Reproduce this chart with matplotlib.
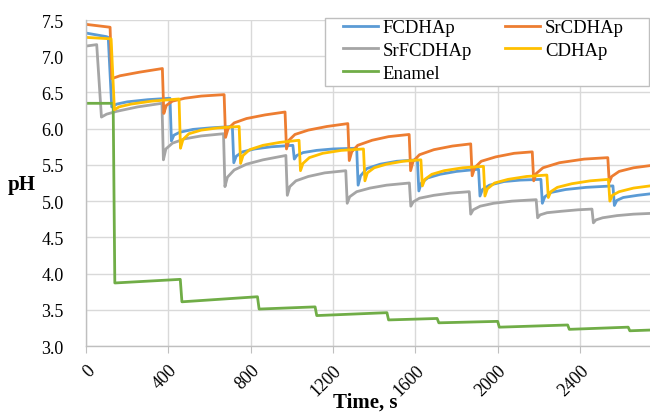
import matplotlib as mpl
mpl.use('Agg')
import matplotlib.pyplot as plt
from matplotlib.patches import Rectangle

# time (s) and pH readings for each material
t_fc = [0, 100, 108, 125, 150, 200, 300, 408,
        415, 427, 455, 520, 600, 711,
        718, 730, 760, 820, 900, 1005,
        1012, 1024, 1055, 1120, 1200, 1315,
        1322, 1334, 1365, 1430, 1510, 1610,
        1617, 1629, 1660, 1720, 1800, 1907,
        1914, 1926, 1960, 2030, 2110, 2210,
        2217, 2229, 2260, 2330, 2430, 2560,
        2567, 2579, 2610, 2680, 2740]
ph_fc = [7.32, 7.27, 7.26, 6.30, 6.34, 6.37, 6.40, 6.42,
         5.83, 5.91, 5.95, 5.99, 6.01, 6.03,
         5.53, 5.62, 5.68, 5.72, 5.75, 5.77,
         5.58, 5.63, 5.67, 5.70, 5.72, 5.73,
         5.22, 5.35, 5.45, 5.51, 5.55, 5.57,
         5.14, 5.25, 5.32, 5.37, 5.41, 5.44,
         5.07, 5.16, 5.22, 5.27, 5.29, 5.30,
         4.97, 5.06, 5.12, 5.16, 5.19, 5.21,
         4.94, 5.01, 5.05, 5.08, 5.10]

t_sr = [0, 117, 125, 165, 260, 371,
        378, 390, 420, 480, 560, 671,
        678, 690, 720, 780, 870, 967,
        974, 986, 1015, 1080, 1170, 1272,
        1279, 1291, 1320, 1390, 1470, 1570,
        1577, 1589, 1620, 1690, 1780, 1869,
        1876, 1888, 1920, 1990, 2080, 2168,
        2175, 2187, 2220, 2300, 2420, 2535,
        2542, 2554, 2590, 2660, 2740]
ph_sr = [7.44, 7.40, 6.69, 6.73, 6.78, 6.83,
         6.21, 6.32, 6.38, 6.42, 6.45, 6.47,
         5.88, 6.00, 6.08, 6.14, 6.19, 6.23,
         5.72, 5.84, 5.92, 5.98, 6.03, 6.07,
         5.56, 5.68, 5.77, 5.84, 5.89, 5.92,
         5.42, 5.55, 5.64, 5.71, 5.76, 5.79,
         5.35, 5.46, 5.55, 5.61, 5.66, 5.68,
         5.28, 5.38, 5.46, 5.53, 5.58, 5.60,
         5.26, 5.34, 5.41, 5.46, 5.49]

t_srf = [0, 52, 75, 100, 150, 250, 369,
         376, 388, 420, 480, 560, 668,
         675, 687, 720, 780, 860, 971,
         978, 990, 1020, 1080, 1160, 1262,
         1269, 1281, 1315, 1380, 1460, 1571,
         1578, 1590, 1620, 1690, 1770, 1862,
         1869, 1881, 1915, 1980, 2070, 2187,
         2194, 2206, 2240, 2310, 2390, 2458,
         2465, 2477, 2510, 2580, 2660, 2740]
ph_srf = [7.14, 7.16, 6.16, 6.20, 6.24, 6.30, 6.35,
          5.57, 5.72, 5.80, 5.86, 5.90, 5.93,
          5.20, 5.33, 5.43, 5.51, 5.57, 5.63,
          5.08, 5.20, 5.28, 5.34, 5.39, 5.42,
          4.97, 5.06, 5.13, 5.18, 5.22, 5.25,
          4.93, 4.99, 5.04, 5.08, 5.11, 5.13,
          4.82, 4.88, 4.93, 4.97, 5.00, 5.02,
          4.77, 4.81, 4.84, 4.86, 4.88, 4.89,
          4.70, 4.74, 4.77, 4.80, 4.82, 4.83]

t_cd = [0, 122, 138, 160, 220, 320, 452,
        459, 471, 500, 560, 640, 744,
        751, 763, 795, 860, 940, 1035,
        1042, 1054, 1085, 1150, 1240, 1348,
        1355, 1367, 1400, 1460, 1540, 1627,
        1634, 1646, 1680, 1740, 1830, 1931,
        1938, 1950, 1985, 2050, 2140, 2239,
        2246, 2258, 2290, 2360, 2450, 2538,
        2545, 2557, 2590, 2660, 2740]
ph_cd = [7.26, 7.24, 6.26, 6.30, 6.34, 6.38, 6.41,
         5.73, 5.85, 5.93, 5.98, 6.01, 6.03,
         5.52, 5.63, 5.71, 5.77, 5.81, 5.84,
         5.42, 5.52, 5.60, 5.66, 5.70, 5.72,
         5.28, 5.39, 5.46, 5.51, 5.55, 5.57,
         5.21, 5.30, 5.37, 5.42, 5.46, 5.48,
         5.07, 5.17, 5.25, 5.30, 5.34, 5.36,
         5.05, 5.13, 5.19, 5.24, 5.28, 5.30,
         5.00, 5.08, 5.13, 5.18, 5.21]

t_en = [0, 132, 140, 458, 466, 833, 841, 1113, 1121, 1462, 1470,
        1706, 1714, 2000, 2008, 2340, 2348, 2634, 2642, 2740]
ph_en = [6.35, 6.35, 3.87, 3.92, 3.61, 3.68, 3.51, 3.54, 3.42, 3.46, 3.36,
         3.38, 3.32, 3.34, 3.26, 3.29, 3.23, 3.26, 3.21, 3.22]

x_ticks = [0, 400, 800, 1200, 1600, 2000, 2400]
y_ticks = [3.0, 3.5, 4.0, 4.5, 5.0, 5.5, 6.0, 6.5, 7.0, 7.5]

plt.rcParams['font.family'] = 'Liberation Serif'

W, H = 650, 414
fig = plt.figure(figsize=(6.5, 4.14), dpi=100)
ax = fig.add_axes([86/W, 67/H, 564/W, 326/H])

lw = 2.0
ax.plot(t_fc, ph_fc, color='#5B9BD5', lw=lw, label='FCDHAp')
ax.plot(t_srf, ph_srf, color='#A5A5A5', lw=lw, label='SrFCDHAp')
ax.plot(t_en, ph_en, color='#70AD47', lw=lw, label='Enamel')
ax.plot(t_sr, ph_sr, color='#ED7D31', lw=lw, label='SrCDHAp')
ax.plot(t_cd, ph_cd, color='#FFC000', lw=lw, label='CDHAp')

ax.set_xlim(0, 2740)
ax.set_ylim(3.0, 7.5)
ax.set_xticks(x_ticks)
ax.set_yticks(y_ticks)
ax.set_yticklabels(['%.1f' % v for v in y_ticks])
ax.set_xticklabels([str(v) for v in x_ticks], rotation=45, ha='right',
                   rotation_mode='anchor')
ax.tick_params(axis='x', length=5, color='#BFBFBF', labelsize=13, pad=6)
ax.tick_params(axis='y', length=0, labelsize=13, pad=16)

ax.grid(True, color='#D9D9D9', lw=1.0)
ax.set_axisbelow(True)
for s in ['top', 'right']:
    ax.spines[s].set_visible(False)
for s in ['left', 'bottom']:
    ax.spines[s].set_color('#BFBFBF')
    ax.spines[s].set_linewidth(1.0)

fig.text(22/W, 1 - 185/H, 'pH', fontsize=15, fontweight='bold',
         ha='center', va='center')
fig.text(365/W, 1 - 403/H, 'Time, s', fontsize=15, fontweight='bold',
         ha='center', va='center')

# legend box drawn by hand, entries placed inside it
fig.patches.append(Rectangle((325/W, 1 - 87/H), 324/W, 68/H,
                             transform=fig.transFigure, facecolor='white',
                             edgecolor='#BFBFBF', lw=1.0, zorder=5))
leg = fig.legend(ncol=2, loc='upper left', bbox_to_anchor=(343/W, 1 - 20/H),
                 fontsize=13.5, frameon=False, handlelength=1.85,
                 handletextpad=0.28, columnspacing=1.75, labelspacing=0.3,
                 borderpad=0, borderaxespad=0)
leg.set_zorder(6)

fig.savefig('out.png', dpi=100)
